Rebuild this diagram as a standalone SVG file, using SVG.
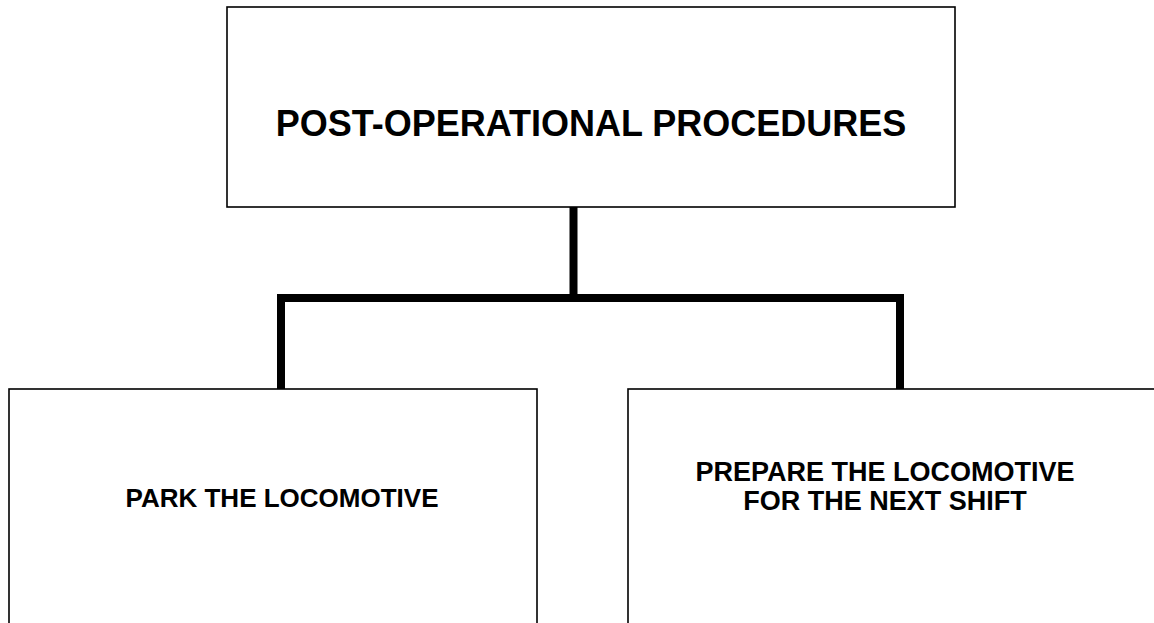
<svg xmlns="http://www.w3.org/2000/svg" width="1154" height="623" viewBox="0 0 1154 623">
<style>
.box{fill:#fff;stroke:#000;stroke-width:1.6}
.t{font-family:"Liberation Sans",Arial,sans-serif;font-weight:bold;fill:#000;text-anchor:middle}
.c{fill:none;stroke:#000;stroke-width:8;stroke-linecap:square}
</style>
<rect width="1154" height="623" fill="#fff"/>
<g id="connectors">
<path class="c" d="M573.5 208 V298 M281 298 H900 M281 298 V388 M900 298 V388"/>
</g>
<g id="top">
<rect class="box" x="227" y="7" width="728" height="200"/>
<text class="t" x="591" y="136" font-size="36">POST-OPERATIONAL PROCEDURES</text>
</g>
<g id="left">
<rect class="box" x="9" y="389" width="528" height="250"/>
<text class="t" x="282" y="507" font-size="26">PARK THE LOCOMOTIVE</text>
</g>
<g id="right">
<rect class="box" x="628" y="389" width="530" height="250"/>
<text class="t" x="885" y="481" font-size="27">PREPARE THE LOCOMOTIVE</text>
<text class="t" x="885" y="510" font-size="27">FOR THE NEXT SHIFT</text>
</g>
</svg>
